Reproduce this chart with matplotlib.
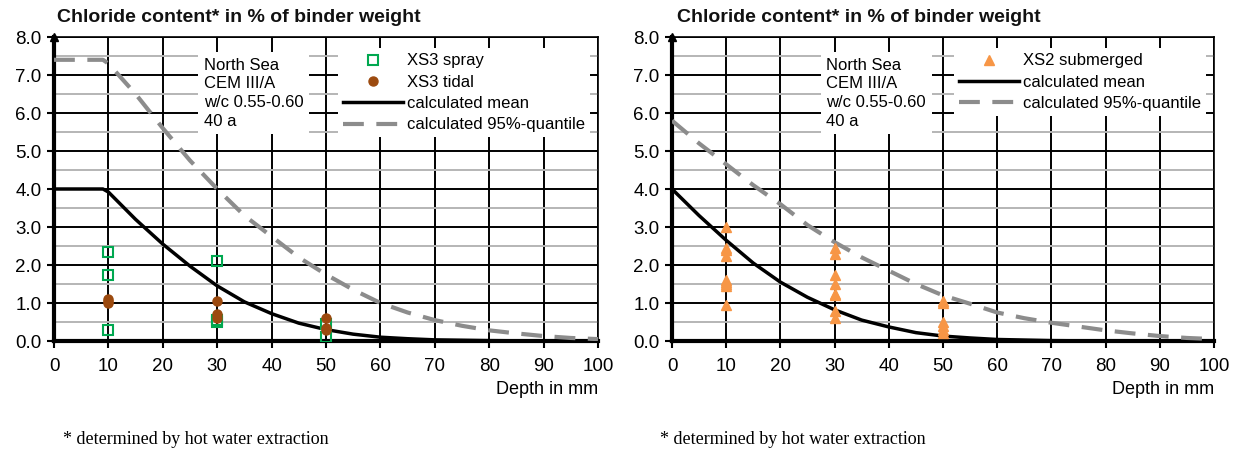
import matplotlib
matplotlib.use("Agg")
import matplotlib.pyplot as plt
import numpy as np

plt.rcParams["font.family"] = ["Liberation Sans", "DejaVu Sans"]

# Left panel: XS3 spray / tidal
spray_x = [10, 10, 10, 30, 30, 30, 50, 50]
spray_y = [2.35, 1.75, 0.3, 2.1, 0.5, 0.55, 0.1, 0.45]
tidal_x = [10, 10, 10, 30, 30, 30, 50, 50, 50]
tidal_y = [1.1, 1.0, 1.05, 1.05, 0.7, 0.6, 0.6, 0.35, 0.3]

left_depth = [0, 9, 10, 15, 20, 25, 30, 35, 40, 45, 50, 55, 60, 65, 70, 80, 90, 100]
left_mean = [4.0, 4.0, 3.92, 3.2, 2.55, 1.97, 1.45, 1.03, 0.72, 0.47, 0.30, 0.18,
             0.10, 0.06, 0.03, 0.01, 0.0, 0.0]
left_q_depth = [0, 9, 10, 15, 20, 25, 30, 35, 40, 45, 50, 55, 60, 65, 70, 75, 80,
                85, 90, 95, 100]
left_q95 = [7.4, 7.4, 7.3, 6.5, 5.6, 4.75, 4.0, 3.3, 2.75, 2.2, 1.75, 1.35, 1.0,
            0.75, 0.55, 0.4, 0.28, 0.2, 0.13, 0.08, 0.05]

# Right panel: XS2 submerged
sub_x = [10] * 9 + [30] * 8 + [50] * 6
sub_y = [3.0, 2.45, 2.4, 2.25, 1.6, 1.55, 1.5, 1.45, 0.95,
         2.45, 2.3, 1.75, 1.5, 1.25, 1.2, 0.8, 0.6,
         1.05, 1.0, 0.5, 0.4, 0.3, 0.2]

right_depth = [0, 5, 10, 15, 20, 25, 30, 35, 40, 45, 50, 55, 60, 70, 80, 100]
right_mean = [4.0, 3.3, 2.65, 2.05, 1.55, 1.15, 0.82, 0.55, 0.37, 0.22, 0.13, 0.08,
              0.04, 0.01, 0.0, 0.0]
right_q_depth = [0, 5, 10, 15, 20, 25, 30, 35, 40, 45, 50, 55, 60, 65, 70, 75, 80,
                 85, 90, 95, 100]
right_q95 = [5.8, 5.2, 4.65, 4.1, 3.6, 3.05, 2.6, 2.2, 1.85, 1.5, 1.2, 0.98, 0.75,
             0.6, 0.48, 0.38, 0.28, 0.2, 0.13, 0.08, 0.05]

info_text = "North Sea\nCEM III/A\nw/c 0.55-0.60\n40 a"

W, H = 1235, 453
fig = plt.figure(figsize=(W / 100, H / 100), dpi=100)


def setup_axes(left_px, right_px):
    ax = fig.add_axes([left_px / W, (H - 341) / H, (right_px - left_px) / W, (341 - 37) / H])
    ax.set_xlim(0, 100)
    ax.set_ylim(0, 8)
    ax.set_xticks(np.arange(0, 101, 10))
    ax.set_yticks(np.arange(0, 8.1, 1))
    ax.set_yticks(np.arange(0.5, 8, 1), minor=True)
    ax.set_yticklabels([f"{v:.1f}" for v in np.arange(0, 8.1, 1)])
    ax.grid(which="major", color="black", lw=1.4, zorder=1)
    ax.grid(which="minor", axis="y", color="#b5b5b5", lw=1.4, zorder=1)
    ax.tick_params(which="major", direction="out", length=5, width=1.5,
                   labelsize=13.5, pad=4)
    ax.tick_params(axis="x", pad=7)
    ax.tick_params(which="minor", length=0)
    for s in ["top", "right"]:
        ax.spines[s].set_linewidth(1.2)
    for s in ["left", "bottom"]:
        ax.spines[s].set_linewidth(3)
    ax.plot(0, 8, marker="^", color="black", markersize=6, clip_on=False,
            transform=ax.transData, zorder=10)
    ax.set_axisbelow(True)
    return ax


def finish(ax, text_x, title_x, foot_x):
    ax.text(text_x, 7.45, info_text, fontsize=12, va="top", ha="left",
            linespacing=1.3, zorder=6,
            bbox=dict(facecolor="white", edgecolor="none", pad=4))
    leg = ax.legend(loc="upper right", bbox_to_anchor=(1.0, 0.99), fontsize=12,
                    frameon=True, fancybox=False, edgecolor="none",
                    facecolor="white", framealpha=1, handlelength=3.6,
                    handletextpad=0.2, labelspacing=0.38, borderpad=0.3)
    leg.set_zorder(6)
    fig.text(title_x / W, 1 - 18 / H, "Chloride content* in % of binder weight",
             fontsize=14, weight="bold", va="center", ha="left", color="#111111")
    ax.text(1.0, -0.13, "Depth in mm", transform=ax.transAxes, fontsize=13,
            ha="right", va="top")
    fig.text(foot_x / W, 1 - 440 / H, "* determined by hot water extraction",
             family=["Liberation Serif", "DejaVu Serif"], fontsize=13,
             va="center", ha="left")


axL = setup_axes(54, 598)
axL.plot(spray_x, spray_y, ls="none", marker="s", mfc="none", mec="#00a850",
         mew=1.5, ms=7, label="XS3 spray", zorder=4)
axL.plot(tidal_x, tidal_y, ls="none", marker="o", color="#9c4a0f", ms=6.5,
         label="XS3 tidal", zorder=4)
axL.plot(left_depth, left_mean, color="black", lw=2.5, label="calculated mean", zorder=3)
axL.plot(left_q_depth, left_q95, color="#8c8c8c", lw=3, dashes=(5, 3),
         label="calculated 95%-quantile", zorder=3)
finish(axL, 27.5, 57, 63)

axR = setup_axes(672, 1214)
axR.plot(sub_x, sub_y, ls="none", marker="^", color="#f79646", ms=6.5,
         label="XS2 submerged", zorder=4)
axR.plot(right_depth, right_mean, color="black", lw=2.5, label="calculated mean", zorder=3)
axR.plot(right_q_depth, right_q95, color="#8c8c8c", lw=3, dashes=(5, 3),
         label="calculated 95%-quantile", zorder=3)
finish(axR, 28.5, 677, 660)

fig.savefig("out.png", dpi=100)
